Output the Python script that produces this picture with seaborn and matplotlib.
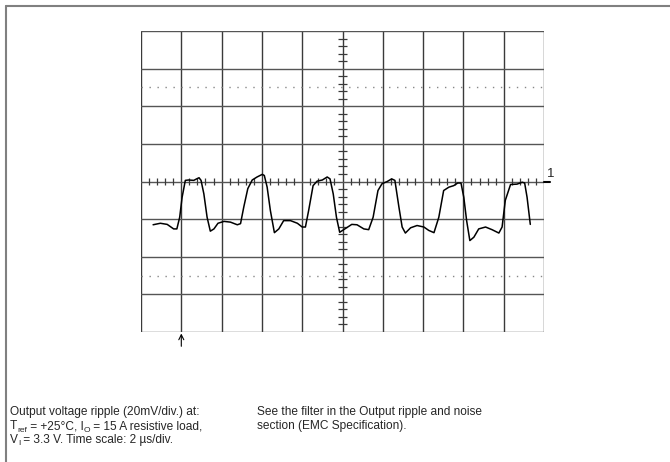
import numpy as np
import pandas as pd
import matplotlib
matplotlib.use("Agg")
import matplotlib.pyplot as plt
from matplotlib.lines import Line2D
import seaborn as sns

# trace, in divisions (x: 2 us/div, y: 20 mV/div)
t_div = [-4.70, -4.52, -4.35, -4.19, -4.11, -4.04, -3.98, -3.90, -3.82, -3.69, -3.62, -3.56, -3.51,
         -3.44, -3.36, -3.28, -3.19, -3.09, -2.94, -2.78, -2.61, -2.53, -2.45, -2.35, -2.24, -2.12,
         -1.99, -1.94, -1.87, -1.79, -1.69, -1.58, -1.46, -1.29, -1.12, -1.00, -0.92, -0.84, -0.73,
         -0.63, -0.50, -0.38, -0.31, -0.23, -0.15, -0.07, 0.03, 0.23, 0.36, 0.53, 0.65, 0.76, 0.88,
         0.98, 1.11, 1.22, 1.30, 1.40, 1.48, 1.56, 1.69, 1.85, 2.02, 2.14, 2.27, 2.39, 2.51, 2.64,
         2.76, 2.86, 2.94, 3.01, 3.08, 3.16, 3.26, 3.38, 3.55, 3.71, 3.88, 3.96, 4.04, 4.17, 4.33,
         4.46, 4.52, 4.58, 4.66]
v_div = [-1.15, -1.11, -1.14, -1.26, -1.26, -0.95, -0.42, 0.03, 0.04, 0.03, 0.07, 0.10, 0.03,
         -0.33, -0.95, -1.32, -1.26, -1.11, -1.06, -1.08, -1.15, -1.12, -0.68, -0.19, 0.04, 0.12,
         0.19, 0.16, -0.15, -0.77, -1.36, -1.26, -1.04, -1.04, -1.11, -1.21, -1.21, -0.77, -0.11,
         0.01, 0.04, 0.12, 0.07, -0.33, -0.95, -1.35, -1.28, -1.14, -1.15, -1.26, -1.28, -0.95, -0.24,
         -0.06, 0.00, 0.07, 0.03, -0.68, -1.21, -1.37, -1.23, -1.17, -1.21, -1.30, -1.36, -0.95, -0.24, -0.15,
         -0.11, -0.04, -0.04, -0.42, -1.04, -1.57, -1.48, -1.26, -1.21, -1.28, -1.37, -1.21, -0.50, -0.08, -0.07,
         -0.02, -0.04, -0.42, -1.14]

x_divs = list(range(-5, 6))
y_divs = list(range(-4, 5))
dotted_y = [-2.5, 2.5]

# note lines as (text, is_subscript) runs
left_note = [[("Output voltage ripple (20mV/div.) at:", False)],
             [("T", False), ("ref", True), (" = +25°C, I", False), ("O", True),
              (" = 15 A resistive load,", False)],
             [("V", False), ("I", True), (" = 3.3 V. Time scale: 2 µs/div.", False)]]
right_note = [[("See the filter in the Output ripple and noise", False)],
              [("section (EMC Specification).", False)]]

sns.set_style("white")
plt.rcParams['font.family'] = ['Liberation Sans', 'DejaVu Sans']

fig = plt.figure(figsize=(6.7, 4.62), dpi=100)
ax = fig.add_axes([141/670, 1-332/462, 403/670, 301/462])

gc = '#3a3a3a'
for x in x_divs:
    ax.axvline(x, color=gc, lw=1.0, zorder=1)
for y in y_divs:
    ax.axhline(y, color='#555555', lw=1.0, zorder=1)
for y in dotted_y:
    ax.axhline(y, color='#888888', lw=1.0, ls=(0, (1, 4.75)), zorder=1)

# minor ticks on the centre lines
minor = [m/5 for m in range(-25, 26) if m % 5 != 0]
ax.vlines(minor, -0.08, 0.08, color=gc, lw=0.9, zorder=1)
minor_y = [m/5 for m in range(-20, 21) if m % 5 != 0]
ax.hlines(minor_y, -0.1, 0.1, color=gc, lw=0.9, zorder=1)

df = pd.DataFrame({"t": t_div, "v": v_div})
sns.lineplot(x="t", y="v", data=df, color='black', lw=1.1, ax=ax, zorder=3, sort=False)

ax.set_xlim(-5, 5)
ax.set_ylim(-4, 4)
ax.set_xticks([])
ax.set_yticks([])
ax.set_xlabel("")
ax.set_ylabel("")
for s in ax.spines.values():
    s.set_visible(False)

# channel marker and trigger arrow
ax.plot([5, 5.15], [0, 0], color='black', lw=1.5, clip_on=False)
ax.text(5.08, 0.05, "1", fontsize=9.5, ha='left', va='bottom', clip_on=False)
ax.annotate("", xy=(-4, -4.04), xytext=(-4, -4.38),
            arrowprops=dict(arrowstyle='->', color='black', lw=0.8, mutation_scale=9,
                            shrinkA=0, shrinkB=0),
            annotation_clip=False)

# outer frame
fig.add_artist(Line2D([6/670, 1.0], [1-6/462, 1-6/462], color='#808080', lw=1.5))
fig.add_artist(Line2D([6/670, 6/670], [0, 1-6/462], color='#808080', lw=1.5))

renderer = fig.canvas.get_renderer()

def put_line(x_px, base_px, runs):
    x = x_px
    for s, sub in runs:
        fs = 6.0 if sub else 8.6
        b = base_px + (2.2 if sub else 0)
        t = fig.text(x/670, 1-b/462, s, fontsize=fs, va='baseline', ha='left')
        x += t.get_window_extent(renderer).width

baselines = [415.5, 429.3, 443.0]
for b, runs in zip(baselines, left_note):
    put_line(10, b, runs)
for b, runs in zip(baselines, right_note):
    put_line(257, b, runs)

plt.savefig("out.png", dpi=100)
